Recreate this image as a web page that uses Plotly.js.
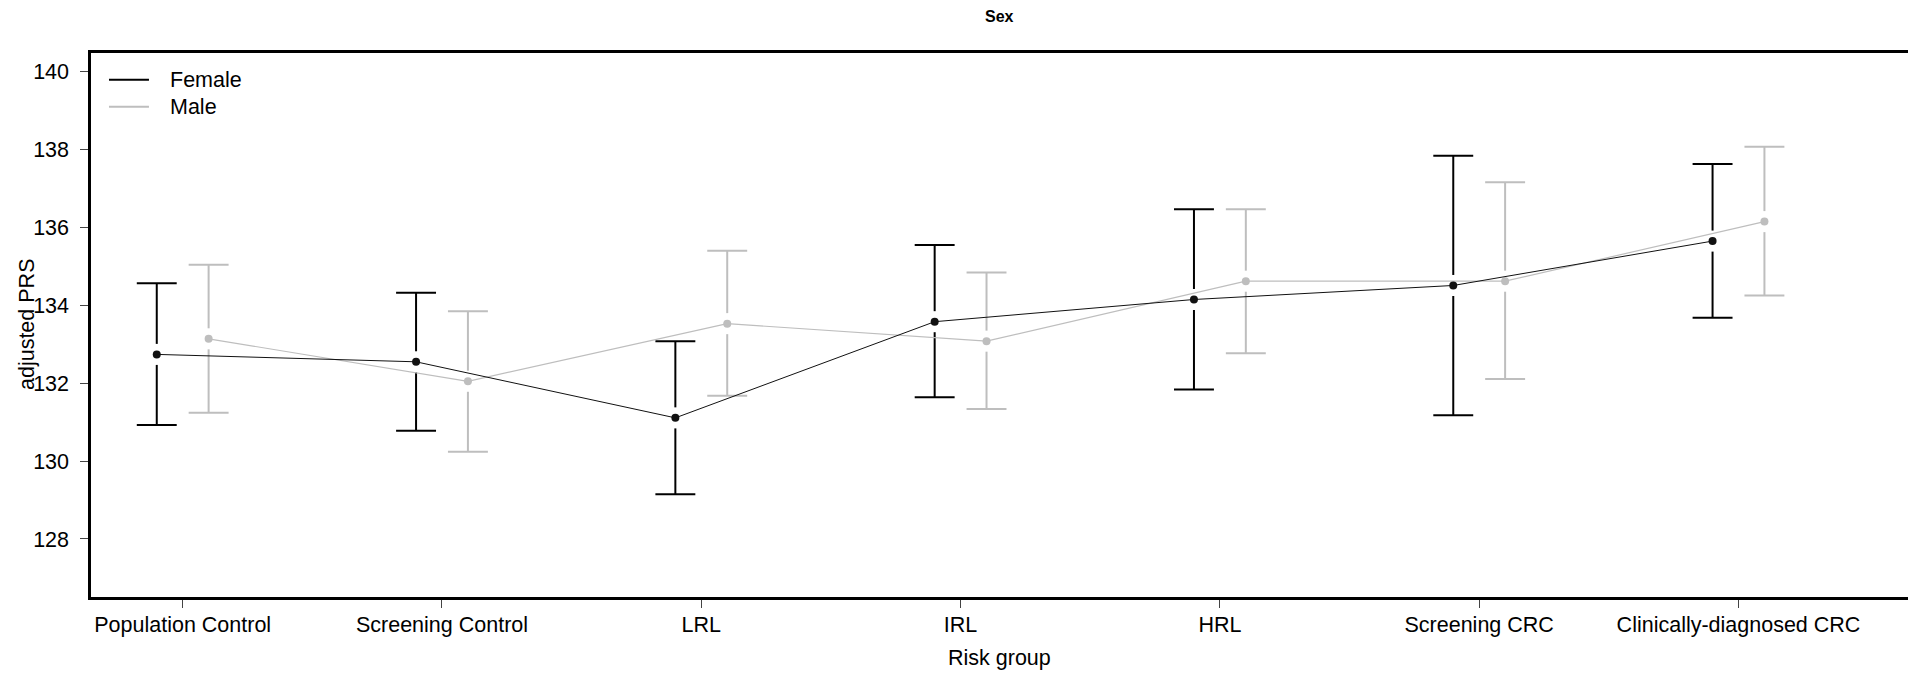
<!DOCTYPE html>
<html>
<head>
<meta charset="utf-8">
<script src="https://cdn.plot.ly/plotly-3.0.1.min.js"></script>
<style>html,body{margin:0;padding:0;background:#fff;}#chart{width:1908px;height:675px;}</style>
</head>
<body>
<div id="chart"></div>
<script>
const categories = ['Population Control','Screening Control','LRL','IRL','HRL','Screening CRC','Clinically-diagnosed CRC'];
const seriesNames = ['Female','Male'];
const femaleMean  = [132.74,132.55,131.11,133.58,134.15,134.51,135.65];
const femaleLower = [130.93,130.78,129.15,131.64,131.84,131.18,133.68];
const femaleUpper = [134.57,134.32,133.08,135.55,136.47,137.84,137.63];
const maleMean    = [133.14,132.05,133.53,133.08,134.62,134.62,136.15];
const maleLower   = [131.24,130.24,131.68,131.34,132.77,132.11,134.25];
const maleUpper   = [135.04,133.85,135.40,134.84,136.47,137.16,138.07];
const yTicks = [128,130,132,134,136,138,140];

const FONT = 'Liberation Sans, Arial, sans-serif';
const GREY = '#bebebe';
const dodge = 0.1;     // horizontal offset of each series from the category centre
const gap = 0.27;      // gap between point and CI bar (y units)
const capHalf = 0.077; // half-width of CI caps (x units)
const idx = categories.map((c,i)=>i);
const xF = idx.map(i=>i-dodge);
const xM = idx.map(i=>i+dodge);

function barTrace(x, mean, lo, hi, color){
  const xs = [], ys = [];
  x.forEach((xv,i)=>{
    xs.push(xv, xv, null, xv, xv, null, xv-capHalf, xv+capHalf, null, xv-capHalf, xv+capHalf, null);
    ys.push(hi[i], mean[i]+gap, null, mean[i]-gap, lo[i], null, hi[i], hi[i], null, lo[i], lo[i], null);
  });
  return {x:xs, y:ys, type:'scatter', mode:'lines', showlegend:false, hoverinfo:'skip',
    connectgaps:false, line:{color:color, width:2}};
}
function lineTrace(x, mean, color, name, w){
  return {x:x, y:mean, type:'scatter', mode:'lines+markers', name:name, showlegend:false,
    line:{color:color, width:w}, marker:{size:8, color:color}};
}

const data = [
  barTrace(xF, femaleMean, femaleLower, femaleUpper, '#000000'),
  barTrace(xM, maleMean, maleLower, maleUpper, GREY),
  lineTrace(xM, maleMean, GREY, seriesNames[1], 1.2),
  lineTrace(xF, femaleMean, '#111111', seriesNames[0], 1)
];

const legY = [0.951, 0.9013];
const legColors = ['#000000', GREY];
const shapes = seriesNames.map((n,i)=>({type:'line', xref:'paper', yref:'paper',
  x0:0.0099, x1:0.0319, y0:legY[i], y1:legY[i], line:{color:legColors[i], width:2}}));
const annotations = seriesNames.map((n,i)=>({text:n, xref:'paper', yref:'paper', x:0.0425, y:legY[i],
  xanchor:'left', yanchor:'middle', showarrow:false, font:{family:FONT, size:21.5, color:'#000'}}));
annotations.push({text:'<b>Sex</b>', xref:'paper', yref:'paper', x:0.5, y:1, yshift:37, xanchor:'center', yanchor:'middle',
  showarrow:false, font:{family:FONT, size:16, color:'#000'}});
annotations.push({text:'Risk group', xref:'paper', yref:'paper', x:0.5, y:0, yshift:-61, xanchor:'center', yanchor:'middle',
  showarrow:false, font:{family:FONT, size:21.5, color:'#000'}});
annotations.push({text:'adjusted PRS', xref:'paper', yref:'paper', x:0, y:0.5, xshift:-64, xanchor:'center', yanchor:'middle',
  textangle:-90, showarrow:false, font:{family:FONT, size:21.5, color:'#000'}});

const layout = {
  width:1908, height:675,
  margin:{l:91, r:0, t:53, b:78, pad:0},
  paper_bgcolor:'#fff', plot_bgcolor:'#fff',
  showlegend:false,
  xaxis:{range:[-0.3536, 6.6537], tickmode:'array', tickvals:idx, ticktext:categories,
    showgrid:false, zeroline:false, showline:true, mirror:true, linecolor:'#000', linewidth:2.7,
    ticks:'outside', ticklen:8, tickwidth:1, tickcolor:'#444', ticklabelstandoff:-2,
    tickfont:{family:FONT, size:21.5, color:'#000'}},
  yaxis:{range:[126.51, 140.48], tickmode:'array', tickvals:yTicks, ticktext:yTicks.map(String),
    showgrid:false, zeroline:false, showline:true, mirror:false, linecolor:'#000', linewidth:2.7,
    ticks:'outside', ticklen:8, tickwidth:1, tickcolor:'#444', ticklabelstandoff:7,
    tickfont:{family:FONT, size:21.5, color:'#000'}},
  shapes:shapes,
  annotations:annotations
};
Plotly.newPlot('chart', data, layout, {staticPlot:true, displayModeBar:false});
</script>
</body>
</html>
